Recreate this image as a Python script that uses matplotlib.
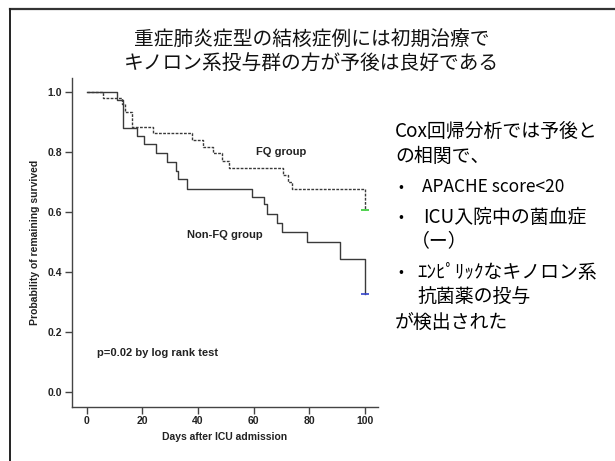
import matplotlib
matplotlib.use("Agg")
import matplotlib.pyplot as plt
from matplotlib.lines import Line2D

plt.rcParams['font.family'] = ['Liberation Sans', 'DejaVu Sans']

# ---- data ----
fq_t = [0, 6.0, 12.6, 13.8, 16.2, 23.9, 37.9, 41.9, 45.5, 48.5, 51.0, 70.6, 72.4, 73.9, 100]
fq_s = [1.0, 0.978, 0.961, 0.933, 0.884, 0.862, 0.839, 0.817, 0.795, 0.770, 0.745, 0.723, 0.701, 0.677, 0.606]

nfq_t = [0, 10.8, 12.9, 18.0, 20.6, 25.0, 28.7, 32.0, 32.9, 35.9, 59.5, 63.6, 64.8, 68.3, 70.1, 79.1, 91.0, 100]
nfq_s = [1.0, 0.972, 0.880, 0.854, 0.826, 0.796, 0.766, 0.738, 0.710, 0.677, 0.651, 0.625, 0.595, 0.562, 0.534, 0.501, 0.443, 0.326]

x_ticks = [0, 20, 40, 60, 80, 100]
y_ticks = [0.0, 0.2, 0.4, 0.6, 0.8, 1.0]
y_tick_labels = ["0.0", "0.2", "0.4", "0.6", "0.8", "1.0"]

title_lines = ["重症肺炎症型の結核症例には初期治療で", "キノロン系投与群の方が予後は良好である"]

W, H = 615, 461
fig = plt.figure(figsize=(W / 100, H / 100), dpi=100)
fig.patch.set_facecolor('white')

def fx(px):
    return px / W

def fy(py):
    return 1 - py / H

# slide frame lines (top and left)
fig.add_artist(Line2D([fx(10), 1.0], [fy(9), fy(9)], color='#333333', lw=1.6))
fig.add_artist(Line2D([fx(10), fx(10)], [fy(9), 0.0], color='#222222', lw=1.4))

ax = fig.add_axes([fx(71.7), fy(406.7), fx(378) - fx(71.7), fy(78) - fy(406.7)])

line_col = '#3a3a3a'
ax.step(nfq_t, nfq_s, where='post', color=line_col, lw=1.0, linestyle='-')
ax.step(fq_t, fq_s, where='post', color=line_col, lw=1.0, linestyle=(0, (2, 1)))
# censor marks at last time point
ax.plot([fq_t[-1]], [fq_s[-1]], marker='_', markersize=6, color='#33cc33', mew=1.2)
ax.plot([nfq_t[-1]], [nfq_s[-1]], marker='_', markersize=6, color='#3344cc', mew=1.2)

ax.set_xlim(-5.4, 104.7)
ax.set_ylim(-0.048, 1.046)
ax.set_xticks(x_ticks)
ax.set_xticklabels([str(v) for v in x_ticks], fontsize=7.5, fontweight='bold', color='#222222')
ax.set_yticks(y_ticks)
ax.set_yticklabels(y_tick_labels, fontsize=7.5, fontweight='bold', color='#222222')
ax.tick_params(axis='both', direction='out', length=5, width=1, color='#444444', pad=2)
for side in ['top', 'right']:
    ax.spines[side].set_visible(False)
for side in ['left', 'bottom']:
    ax.spines[side].set_color('#444444')
    ax.spines[side].set_linewidth(1.0)

ax.set_xlabel("Days after ICU admission", fontsize=7.5, fontweight='bold', color='#222222', labelpad=4)
ax.set_ylabel("Probability of remaining survived", fontsize=7.5, fontweight='bold', color='#222222', labelpad=5)

ax.text(69.8, 0.80, "FQ group", fontsize=8, fontweight='bold', ha='center', va='center', color='#222222')
ax.text(49.8, 0.523, "Non-FQ group", fontsize=8, fontweight='bold', ha='center', va='center', color='#222222')
ax.text(3.8, 0.132, "p=0.02 by log rank test", fontsize=8, fontweight='bold', ha='left', va='center', color='#222222')

cjk = ['Noto Sans CJK JP', 'DejaVu Sans']
fig.text(fx(311.7), fy(40), title_lines[0], fontsize=14.2, family=cjk, ha='center', va='center', color='#111111')
fig.text(fx(311.7), fy(63), title_lines[1], fontsize=14.2, family=cjk, ha='center', va='center', color='#111111')

right_fs = 13.6
fig.text(fx(395), fy(131.7), "Cox回帰分析では予後と", fontsize=right_fs, family=cjk, ha='left', va='center')
fig.text(fx(395), fy(156.7), "の相関で、", fontsize=right_fs, family=cjk, ha='left', va='center')
for py in [187.3, 217.3, 272.3]:
    fig.text(fx(398), fy(py), "•", fontsize=10.5, family=cjk, ha='left', va='center')
fig.text(fx(421.7), fy(187.3), "APACHE score<20", fontsize=12.5, family=cjk, ha='left', va='center')
fig.text(fx(422.7), fy(217.3), "ICU入院中の菌血症", fontsize=right_fs, family=cjk, ha='left', va='center')
fig.text(fx(411), fy(240.3), "（ー）", fontsize=right_fs, family=cjk, ha='left', va='center')
fig.text(fx(417), fy(272.3), "ｴﾝﾋﾟﾘｯｸなキノロン系", fontsize=right_fs, family=cjk, ha='left', va='center')
fig.text(fx(417), fy(296.7), "抗菌薬の投与", fontsize=right_fs, family=cjk, ha='left', va='center')
fig.text(fx(395), fy(323.3), "が検出された", fontsize=right_fs, family=cjk, ha='left', va='center')

fig.savefig("out.png", dpi=100)
